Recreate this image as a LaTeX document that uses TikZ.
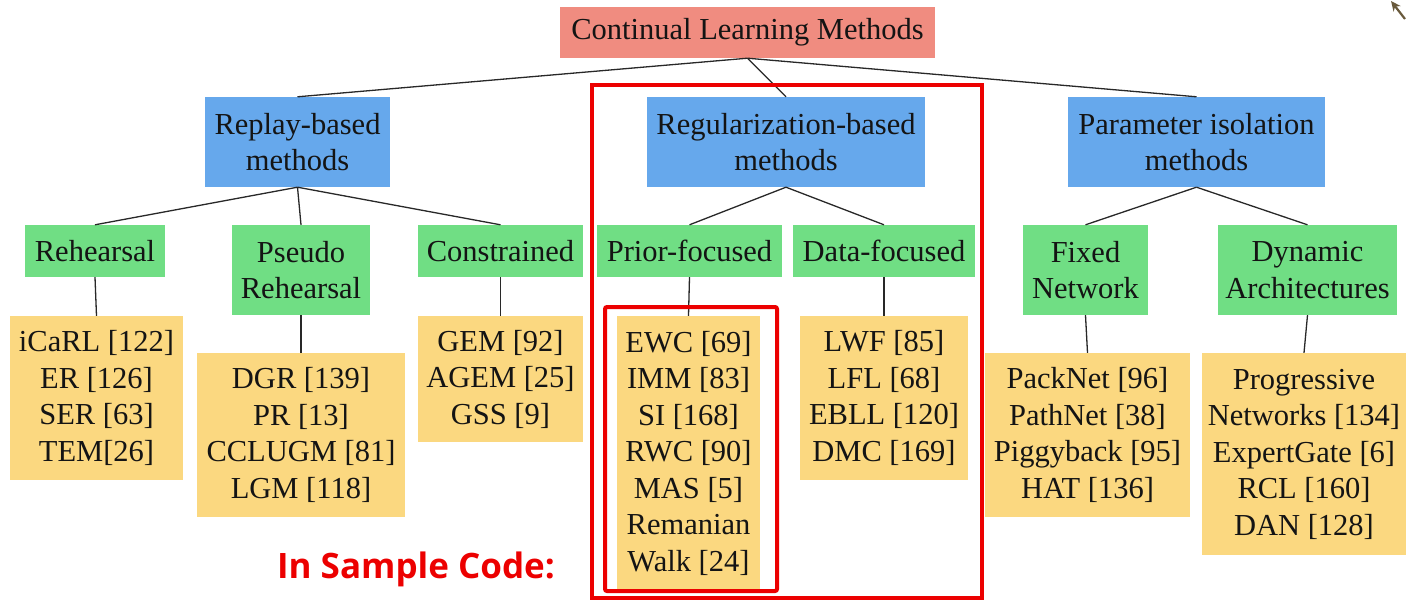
\documentclass[tikz,border=0pt]{standalone}
\usepackage{fontspec}
\setmainfont{Liberation Serif}
\newfontfamily\notefont{Open Sans}
\usetikzlibrary{arrows.meta}

\definecolor{rootfill}{RGB}{240,140,128}
\definecolor{familyfill}{RGB}{102,168,236}
\definecolor{groupfill}{RGB}{112,222,132}
\definecolor{methodfill}{RGB}{251,216,128}
\definecolor{markred}{RGB}{236,0,0}
\definecolor{inkdark}{RGB}{20,20,20}
\definecolor{edgeink}{RGB}{40,40,40}
\definecolor{cursorink}{RGB}{105,90,60}

\begin{document}
\begin{tikzpicture}[x=1pt,y=-1pt,
  box/.style={inner sep=0pt, align=center, text=inkdark,
              font=\fontsize{30.5}{36.5}\selectfont},
  sz/.style 2 args={minimum width=#1pt, minimum height=#2pt},
  rootbox/.style={box, fill=rootfill},
  familybox/.style={box, fill=familyfill},
  groupbox/.style={box, fill=groupfill},
  methodbox/.style={box, fill=methodfill},
  edge/.style={draw=edgeink, line width=1.3pt},
  frame/.style={draw=markred, line width=4pt},
]
\useasboundingbox (0,0) rectangle (1406,602);

% root
\node[rootbox, sz={375}{51}] (root) at (747.5,32.5) {Continual Learning Methods};

% families
\node[familybox, sz={185}{90}] (replay) at (297.5,142) {Replay-based\\methods};
\node[familybox, sz={278}{90}] (reg)    at (786,142)   {Regularization-based\\methods};
\node[familybox, sz={257}{90}] (param)  at (1196.5,142){Parameter isolation\\methods};

% groups
\node[groupbox, sz={140}{52}] (rehearsal) at (95,251)    {Rehearsal};
\node[groupbox, sz={138}{90}] (pseudo)    at (301,270)   {Pseudo\\Rehearsal};
\node[groupbox, sz={165}{52}] (constr)    at (500.5,251) {Constrained};
\node[groupbox, sz={185}{52}] (prior)     at (689.5,251) {Prior-focused};
\node[groupbox, sz={182}{52}] (data)      at (884,251)   {Data-focused};
\node[groupbox, sz={125}{90}] (fixed)     at (1085.5,270){Fixed\\Network};
\node[groupbox, sz={179}{90}] (dynamic)   at (1307.5,270){Dynamic\\Architectures};

% methods
\node[methodbox, sz={173}{164}] (mrehearsal) at (96.5,398)
  {iCaRL [122]\\ER [126]\\SER [63]\\TEM[26]};
\node[methodbox, sz={208}{164}] (mpseudo) at (301,435)
  {DGR [139]\\PR [13]\\CCLUGM [81]\\LGM [118]};
\node[methodbox, sz={165}{126}] (mconstr) at (500.5,379)
  {GEM [92]\\AGEM [25]\\GSS [9]};
\node[methodbox, sz={143}{274}] (mprior) at (688.5,453)
  {EWC [69]\\IMM [83]\\SI [168]\\RWC [90]\\MAS [5]\\Remanian\\Walk [24]};
\node[methodbox, sz={168}{164}] (mdata) at (884,398)
  {LWF [85]\\LFL [68]\\EBLL [120]\\DMC [169]};
\node[methodbox, sz={205}{164}] (mfixed) at (1087.5,435)
  {PackNet [96]\\PathNet [38]\\Piggyback [95]\\HAT [136]};
\node[methodbox, sz={204}{202}] (mdynamic) at (1304,454)
  {Progressive\\Networks [134]\\ExpertGate [6]\\RCL [160]\\DAN [128]};

% tree connectors
\foreach \p/\c in {root/replay, root/reg, root/param,
                   replay/rehearsal, replay/pseudo, replay/constr,
                   reg/prior, reg/data,
                   param/fixed, param/dynamic,
                   rehearsal/mrehearsal, pseudo/mpseudo, constr/mconstr,
                   prior/mprior, data/mdata, fixed/mfixed, dynamic/mdynamic}
  \draw[edge] (\p.south) -- (\c.north);

% highlight frames
\draw[frame] (592,85) rectangle (982,598);
\draw[frame, rounded corners=2pt] (605,307) rectangle (777,591);

% note
\node[text=markred, font=\notefont\bfseries\fontsize{35}{40}\selectfont, inner sep=0pt]
  (note) at (416,569) {In Sample Code:};

% pointer glyph in the corner
\coordinate (cursorTail) at (1405,19);
\coordinate (cursorTip) at (1391,1);
\draw[cursorink, line width=2.2pt, -{Stealth[length=10pt,width=9pt]}] (cursorTail) -- (cursorTip);
\end{tikzpicture}
\end{document}
